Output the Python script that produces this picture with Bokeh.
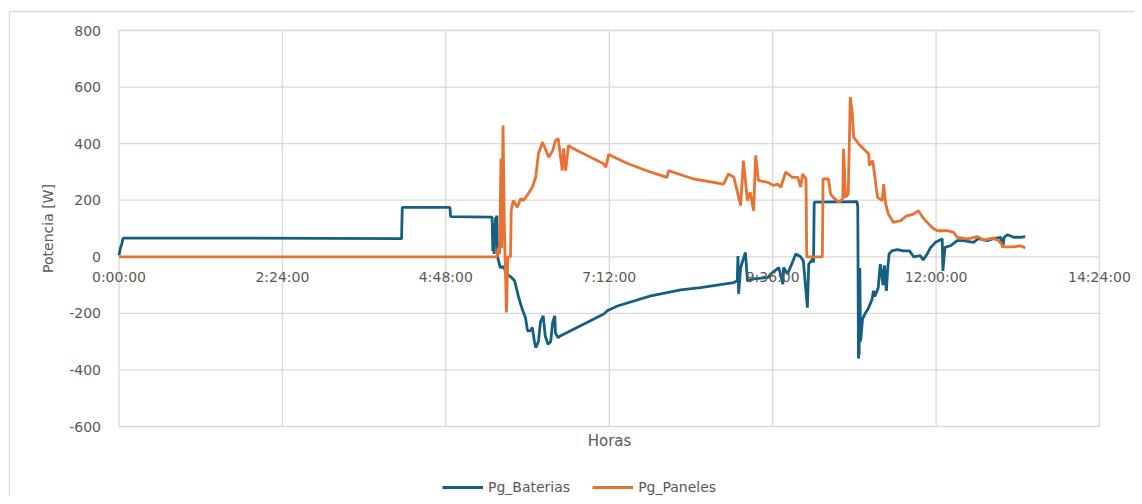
from bokeh.plotting import figure
from bokeh.models import (Range1d, FixedTicker, LinearAxis, Legend, LegendItem,
                          ColumnDataSource)
from bokeh.embed import file_html
from bokeh.resources import INLINE

# ---------------- data (hours since start, watts) ----------------
hours_baterias = [
    0.00, 0.02, 0.04, 0.06, 1.50, 3.00, 4.15, 4.16, 4.86, 4.87,
    5.48, 5.49, 5.50, 5.51, 5.53, 5.55, 5.56, 5.60, 5.65, 5.69,
    5.75, 5.81, 5.87, 5.93, 5.97, 6.00, 6.04, 6.07, 6.10, 6.12,
    6.16, 6.19, 6.23, 6.26, 6.30, 6.34, 6.37, 6.40, 6.41, 6.45,
    6.48, 7.12, 7.17, 7.32, 7.81, 8.25, 8.54, 9.03, 9.08, 9.09,
    9.10, 9.13, 9.16, 9.20, 9.23, 9.32, 9.53, 9.57, 9.69, 9.75,
    9.76, 9.82, 9.94, 10.01, 10.05, 10.11, 10.13, 10.19, 10.20, 10.21,
    10.84, 10.85, 10.86, 10.87, 10.88, 10.89, 10.92, 10.96, 11.00, 11.06,
    11.08, 11.10, 11.15, 11.18, 11.20, 11.22, 11.24, 11.27, 11.29, 11.31,
    11.35, 11.43, 11.52, 11.61, 11.67, 11.77, 11.81, 11.87, 11.92, 11.99,
    12.06, 12.09, 12.10, 12.13, 12.21, 12.31, 12.40, 12.55, 12.62, 12.75,
    12.84, 12.95, 12.98, 13.00, 13.05, 13.14, 13.24, 13.31,
]
pg_baterias = [
    5, 30, 45, 66, 66, 65, 64, 175, 175, 142,
    140, 20, 120, 10, 135, 145, 0, -38, -35, -60,
    -70, -85, -144, -191, -215, -262, -262, -250, -298, -321,
    -300, -230, -209, -280, -309, -300, -230, -209, -270, -286,
    -280, -202, -191, -174, -138, -117, -109, -91, -85, 3,
    -131, -38, -14, 15, -85, -78, -73, -61, -38, -97,
    -38, -61, 10, 0, -14, -180, -26, -7, -20, 193,
    195, 175, -360, -340, -40, -300, -220, -200, -185, -150,
    -120, -140, -110, -26, -60, -100, -30, -121, -40, 10,
    21, 25, 21, 21, 0, 4, -11, 10, 33, 51,
    59, 64, -50, 33, 39, 57, 57, 51, 64, 57,
    64, 69, 33, 69, 78, 69, 69, 71,
]

hours_paneles = [
    0.00, 5.55, 5.57, 5.59, 5.61, 5.62, 5.64, 5.66, 5.69, 5.71,
    5.75, 5.76, 5.79, 5.85, 5.90, 5.94, 6.01, 6.07, 6.12, 6.16,
    6.22, 6.26, 6.31, 6.37, 6.41, 6.45, 6.51, 6.53, 6.56, 6.60,
    6.67, 7.11, 7.15, 7.19, 7.47, 7.81, 8.05, 8.07, 8.14, 8.44,
    8.88, 8.95, 9.03, 9.13, 9.17, 9.23, 9.27, 9.32, 9.35, 9.39,
    9.53, 9.61, 9.67, 9.72, 9.79, 9.89, 9.97, 10.01, 10.04, 10.09,
    10.10, 10.33, 10.34, 10.42, 10.45, 10.49, 10.57, 10.63, 10.64, 10.67,
    10.71, 10.74, 10.77, 10.79, 10.86, 10.96, 11.01, 11.02, 11.07, 11.14,
    11.21, 11.23, 11.26, 11.30, 11.37, 11.48, 11.57, 11.67, 11.74, 11.82,
    11.95, 12.02, 12.17, 12.26, 12.31, 12.46, 12.61, 12.70, 12.83, 12.92,
    12.99, 13.14, 13.24, 13.31,
]
pg_paneles = [
    0, 0, 33, 10, 347, 30, 464, 100, -197, 0,
    0, 163, 199, 175, 206, 199, 223, 246, 281, 365,
    405, 383, 352, 376, 411, 418, 305, 383, 305, 394,
    383, 330, 317, 362, 330, 299, 281, 305, 299, 275,
    257, 293, 281, 181, 340, 199, 228, 163, 358, 270,
    263, 252, 257, 246, 299, 281, 281, 246, 293, 275,
    0, 0, 275, 275, 222, 210, 193, 204, 382, 210,
    222, 565, 506, 423, 400, 376, 364, 323, 340, 210,
    199, 257, 187, 151, 122, 128, 145, 151, 163, 134,
    102, 92, 92, 86, 69, 63, 71, 59, 66, 57,
    35, 35, 39, 31,
]

x_tick_seconds = [0, 8640, 17280, 25920, 34560, 43200, 51840]
x_tick_labels = ["0:00:00", "2:24:00", "4:48:00", "7:12:00", "9:36:00", "12:00:00", "14:24:00"]
y_ticks = [-600, -400, -200, 0, 200, 400, 600, 800]
y_tick_labels = ["-600", "-400", "-200", "0", "200", "400", "600", "800"]

series_names = ["Pg_Baterias", "Pg_Paneles"]
series_colors = ["#156082", "#E97132"]

FONT = "DejaVu Sans"
TXT = "#595959"
GRID = "#d9d9d9"

# ---------------- layout geometry (canvas px) ----------------
W, H = 1134, 496
PLOT_L, PLOT_R, PLOT_T, PLOT_B = 118.5, 1099.0, 30.0, 426.0
X0, X1 = x_tick_seconds[0], x_tick_seconds[-1]
Y0, Y1 = y_ticks[0], y_ticks[-1]
sx = (X1 - X0) / (PLOT_R - PLOT_L)
sy = (Y1 - Y0) / (PLOT_B - PLOT_T)
x_range = Range1d(X0 - PLOT_L * sx, X1 + (W - PLOT_R) * sx)
y_range = Range1d(Y0 - (H - PLOT_B) * sy, Y1 + PLOT_T * sy)

p = figure(width=W, height=H, output_backend="svg", toolbar_location=None,
           x_range=x_range, y_range=y_range,
           x_axis_location=None, y_axis_location=None,
           min_border=0)
p.outline_line_color = None
p.background_fill_color = "white"
p.border_fill_color = "white"
for g in p.grid:
    g.visible = False

# gridlines limited to the plot area (drawn from the tick arrays)
p.segment(x0=x_tick_seconds, x1=x_tick_seconds, y0=[Y0] * len(x_tick_seconds),
          y1=[Y1] * len(x_tick_seconds), line_color=GRID, line_width=1.3, level="underlay")
p.segment(x0=[X0] * len(y_ticks), x1=[X1] * len(y_ticks), y0=y_ticks, y1=y_ticks,
          line_color=GRID, line_width=1.3, level="underlay")

# chart-area border (left and top edges visible in the picture)
bx = X0 - (PLOT_L - 9) * sx
by = Y1 + (PLOT_T - 11) * sy
p.segment(x0=[bx, bx], x1=[bx, x_range.end], y0=[y_range.start, by], y1=[by, by],
          line_color=GRID, line_width=1.3, level="underlay")

src_b = ColumnDataSource(dict(x=[h * 3600 for h in hours_baterias], y=pg_baterias))
src_p = ColumnDataSource(dict(x=[h * 3600 for h in hours_paneles], y=pg_paneles))

r_b = p.line("x", "y", source=src_b, line_color=series_colors[0], line_width=2.8)
r_p = p.line("x", "y", source=src_p, line_color=series_colors[1], line_width=2.8)

# x tick labels at y = 0
xlab = LinearAxis(fixed_location=0, ticker=FixedTicker(ticks=x_tick_seconds),
                  bounds=(X0, X1),
                  major_label_overrides=dict(zip(x_tick_seconds, x_tick_labels)))
xlab.axis_line_color = None
xlab.major_tick_line_color = None
xlab.minor_tick_line_color = None
xlab.major_tick_out = 0
xlab.major_tick_in = 0
xlab.major_label_standoff = 12
xlab.major_label_text_font = FONT
xlab.major_label_text_font_size = "14px"
xlab.major_label_text_color = TXT
p.add_layout(xlab, "below")

# x title "Horas" under the plot area
xt = LinearAxis(fixed_location=Y0, ticker=FixedTicker(ticks=[]), bounds=(X0, X1))
xt.axis_line_color = None
xt.major_tick_line_color = None
xt.minor_tick_line_color = None
xt.major_tick_out = 0
xt.major_tick_in = 0
xt.major_label_standoff = 0
xt.axis_label = "Horas"
xt.axis_label_standoff = 5
xt.axis_label_text_font = FONT
xt.axis_label_text_font_size = "15px"
xt.axis_label_text_font_style = "normal"
xt.axis_label_text_color = TXT
p.add_layout(xt, "below")

# y axis at x = 0
ya = LinearAxis(fixed_location=X0, ticker=FixedTicker(ticks=y_ticks), bounds=(Y0, Y1),
                major_label_overrides=dict(zip(y_ticks, y_tick_labels)))
ya.axis_line_color = None
ya.major_tick_line_color = None
ya.minor_tick_line_color = None
ya.major_tick_out = 0
ya.major_tick_in = 0
ya.major_label_standoff = 18
ya.major_label_text_font = FONT
ya.major_label_text_font_size = "14px"
ya.major_label_text_color = TXT
ya.axis_label = "Potencia [W]"
ya.axis_label_standoff = 11
ya.axis_label_text_font = FONT
ya.axis_label_text_font_size = "14px"
ya.axis_label_text_font_style = "normal"
ya.axis_label_text_color = TXT
p.add_layout(ya, "left")

# legend below the plot area
legend = Legend(items=[LegendItem(label=series_names[0], renderers=[r_b]),
                       LegendItem(label=series_names[1], renderers=[r_p])],
                orientation="horizontal", location=(442, 1),
                glyph_width=41, glyph_height=16, label_standoff=5, spacing=22,
                padding=0, margin=0, border_line_color=None,
                background_fill_alpha=0,
                label_text_font=FONT, label_text_font_size="14px",
                label_text_color=TXT)
p.add_layout(legend, "center")

open("out.html", "w").write(file_html(p, INLINE))
